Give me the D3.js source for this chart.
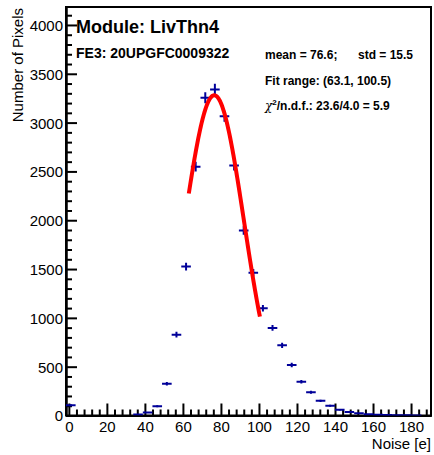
<!DOCTYPE html>
<html>
<head>
<meta charset="utf-8">
<script src="https://cdn.jsdelivr.net/npm/d3@7"></script>
<style>
  html, body { margin: 0; padding: 0; background: #fff; }
  svg { display: block; }
  text { font-family: "Liberation Sans", Arial, sans-serif; }
</style>
</head>
<body>
<script>
// ---- data ----
const histRange = [-1.5, 190.5];          // histogram x range
const binCounts = [105, 0, 0, 0, 0, 0, 0, 10, 30, 95, 326, 828, 1525, 2549, 3255, 3340, 3065, 2560,
                   1895, 1463, 1098, 897, 719, 517, 346, 238, 150, 100, 60, 35, 22, 12, 8, 5, 3, 2, 1, 0];
const xTickValues = [0, 20, 40, 60, 80, 100, 120, 140, 160, 180];
const yTickValues = [0, 500, 1000, 1500, 2000, 2500, 3000, 3500, 4000];
const yMax = 4184;
// Gaussian fit: [amplitude, mean, sigma], and fit range
const fitParams = [3280, 76.5, 15.65];
const fitRange = [63.1, 100.5];
const titleLines = ["Module: LivThn4", "FE3: 20UPGFC0009322"];
const statTexts = ["mean = 76.6;", "std = 15.5", "Fit range: (63.1, 100.5)", "/n.d.f.: 23.6/4.0 = 5.9"];

// ---- layout ----
const W = 434, H = 455;
const mLeft = 66, mRight = 431, mTop = 7, mBottom = 415.5;

const svg = d3.select("body").append("svg").attr("width", W).attr("height", H);

const x = d3.scaleLinear().domain(histRange).range([mLeft, mRight]);
const y = d3.scaleLinear().domain([0, yMax]).range([mBottom, mTop]);

const nBins = binCounts.length;
const bw = (histRange[1] - histRange[0]) / nBins;
const bins = binCounts.map((c, i) => ({
  lo: histRange[0] + i * bw, hi: histRange[0] + (i + 1) * bw,
  c: histRange[0] + (i + 0.5) * bw, v: c
}));

svg.append("defs").append("clipPath").attr("id", "clip")
  .append("rect").attr("x", mLeft).attr("y", mTop).attr("width", mRight - mLeft).attr("height", mBottom - mTop);

// frame
svg.append("rect").attr("x", mLeft).attr("y", mTop).attr("width", mRight - mLeft).attr("height", mBottom - mTop)
  .attr("fill", "none").attr("stroke", "#000").attr("stroke-width", 2);

// ---- axes ----
const xMinor = d3.range(0, 191, 4).filter(v => v % 20 !== 0);
const yMinor = d3.range(0, yMax, 100).filter(v => v % 500 !== 0);

const xAxis = svg.append("g").attr("transform", `translate(0,${mBottom})`)
  .call(d3.axisBottom(x).tickValues(xTickValues).tickFormat(d3.format("d")).tickSizeInner(-12).tickSizeOuter(0));
const xAxisMinor = svg.append("g").attr("transform", `translate(0,${mBottom})`)
  .call(d3.axisBottom(x).tickValues(xMinor).tickSizeInner(-6).tickSizeOuter(0).tickFormat(""));
const yAxis = svg.append("g").attr("transform", `translate(${mLeft},0)`)
  .call(d3.axisLeft(y).tickValues(yTickValues).tickFormat(d3.format("d")).tickSizeInner(-11).tickSizeOuter(0));
const yAxisMinor = svg.append("g").attr("transform", `translate(${mLeft},0)`)
  .call(d3.axisLeft(y).tickValues(yMinor).tickSizeInner(-6).tickSizeOuter(0).tickFormat(""));

[xAxis, xAxisMinor, yAxis, yAxisMinor].forEach(g => {
  g.select(".domain").attr("stroke", "#000").attr("stroke-width", 2);
  g.selectAll(".tick line").attr("stroke", "#000").attr("stroke-width", 2);
  g.selectAll(".tick text").attr("fill", "#000").attr("font-size", 15)
    .attr("font-family", "'Liberation Sans', Arial, sans-serif");
});
xAxis.selectAll(".tick text").attr("dy", null).attr("y", 16.5);
yAxis.selectAll(".tick text").attr("dy", "0.36em").attr("x", -3);

// axis titles
svg.append("text").attr("x", mRight).attr("y", 448.5).attr("text-anchor", "end")
  .attr("font-size", 15).text("Noise [e]");
svg.append("text").attr("transform", `translate(23,${mTop + 1}) rotate(-90)`).attr("text-anchor", "end")
  .attr("font-size", 15).text("Number of Pixels");

// ---- histogram points with error bars ----
const gPts = svg.append("g").attr("clip-path", "url(#clip)")
  .attr("stroke", "#000099").attr("stroke-width", 2);
bins.filter(b => b.v > 0).forEach(b => {
  const e = Math.sqrt(b.v);
  gPts.append("line").attr("x1", x(b.lo)).attr("x2", x(b.hi)).attr("y1", y(b.v)).attr("y2", y(b.v));
  gPts.append("line").attr("x1", x(b.c)).attr("x2", x(b.c)).attr("y1", y(b.v - e)).attr("y2", y(b.v + e));
});

// ---- fit curve ----
const gauss = t => fitParams[0] * Math.exp(-((t - fitParams[1]) ** 2) / (2 * fitParams[2] ** 2));
const fitXs = d3.range(fitRange[0], fitRange[1], 0.25).concat([fitRange[1]]);
svg.append("path").datum(fitXs)
  .attr("d", d3.line().x(d => x(d)).y(d => y(gauss(d))))
  .attr("fill", "none").attr("stroke", "#ff0000").attr("stroke-width", 4);

// ---- text labels ----
svg.append("text").attr("x", 76).attr("y", 33).attr("font-size", 18).attr("font-weight", "bold")
  .text(titleLines[0]);
svg.append("text").attr("x", 76).attr("y", 58).attr("font-size", 14).attr("font-weight", "bold")
  .text(titleLines[1]);
svg.append("text").attr("x", 265).attr("y", 58.5).attr("font-size", 12).attr("font-weight", "bold")
  .text(statTexts[0]);
svg.append("text").attr("x", 358).attr("y", 58.5).attr("font-size", 12).attr("font-weight", "bold")
  .text(statTexts[1]);
svg.append("text").attr("x", 265).attr("y", 84.5).attr("font-size", 12).attr("font-weight", "bold")
  .text(statTexts[2]);
const chi = svg.append("text").attr("x", 265).attr("y", 110).attr("font-size", 12).attr("font-weight", "bold");
chi.append("tspan").attr("font-weight", "normal").attr("font-family", "'DejaVu Serif', serif").attr("font-style", "italic").text("χ");
chi.append("tspan").attr("font-size", 8).attr("dy", -5).text("2");
chi.append("tspan").attr("dy", 5).text(statTexts[3]);
</script>
</body>
</html>
